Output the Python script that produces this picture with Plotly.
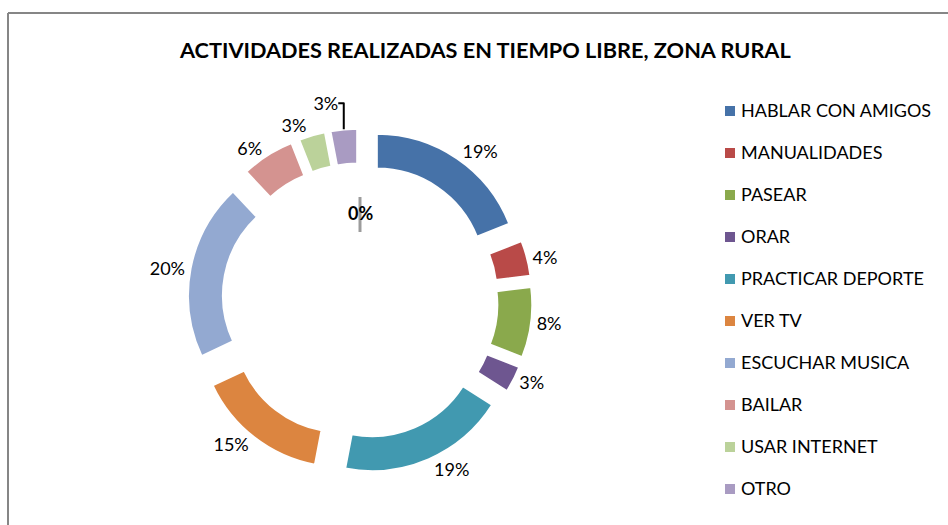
import plotly.graph_objects as go

W, H = 948, 525

categories = ["HABLAR CON AMIGOS", "MANUALIDADES", "PASEAR", "ORAR", "PRACTICAR DEPORTE",
              "VER TV", "ESCUCHAR MUSICA", "BAILAR", "USAR INTERNET", "OTRO"]
values = [19, 4, 8, 3, 19, 15, 20, 6, 3, 3]
colors = ["#4672A8", "#B94A48", "#8AA94C", "#6E5690", "#4199B0",
          "#DC8540", "#93A9D1", "#D49390", "#BBD29A", "#A99BC2"]
title_text = "ACTIVIDADES REALIZADAS EN TIEMPO LIBRE, ZONA RURAL"
center_label = "0%"

FONT = "Lato"

def px_x(x):
    return x / W

def px_y(y):
    return 1 - y / H

pull = 0.21
fig = go.Figure()
fig.add_trace(go.Pie(
    labels=categories,
    values=values,
    marker=dict(colors=colors, line=dict(color="white", width=2)),
    hole=0.755,
    pull=[pull] * len(values),
    sort=False,
    direction="clockwise",
    rotation=0,
    texttemplate="%{percent:.0%}",
    textposition="outside",
    outsidetextfont=dict(family=FONT, size=18, color="#000000"),
    showlegend=False,
    domain=dict(x=[px_x(187.5), px_x(532.5)], y=[px_y(473.5), px_y(128.5)]),
))

annotations = [
    dict(text="<b>" + title_text + "</b>", x=px_x(485), y=px_y(50), xref="paper", yref="paper",
         showarrow=False, xanchor="center", yanchor="middle",
         font=dict(family=FONT, size=21.7, color="#000000")),
    dict(text="<b>" + center_label + "</b>", x=px_x(360), y=px_y(213), xref="paper", yref="paper",
         showarrow=False, xanchor="center", yanchor="middle",
         font=dict(family=FONT, size=18, color="#000000")),
]
shapes = [
    # chart border (left and top edges visible)
    dict(type="line", xref="paper", yref="paper", x0=px_x(8), x1=px_x(8), y0=px_y(13), y1=0,
         line=dict(color="#868686", width=2)),
    dict(type="line", xref="paper", yref="paper", x0=px_x(8), x1=1, y0=px_y(13), y1=px_y(13),
         line=dict(color="#868686", width=2)),
    # small mark behind centre label
    dict(type="line", xref="paper", yref="paper", x0=px_x(360), x1=px_x(360), y0=px_y(197), y1=px_y(232),
         line=dict(color="rgba(90,90,90,0.6)", width=3), layer="below"),
]

y0, dy = 111, 42
for i, (cat, col) in enumerate(zip(categories, colors)):
    yc = y0 + dy * i
    shapes.append(dict(type="rect", xref="paper", yref="paper",
                       x0=px_x(725), x1=px_x(735), y0=px_y(yc + 5), y1=px_y(yc - 5),
                       fillcolor=col, line=dict(width=0)))
    annotations.append(dict(text=cat, x=px_x(739), y=px_y(yc - 1), xref="paper", yref="paper",
                            showarrow=False, xanchor="left", yanchor="middle",
                            font=dict(family=FONT, size=18, color="#000000")))

fig.update_layout(
    width=W, height=H,
    margin=dict(l=0, r=0, t=0, b=0, autoexpand=False),
    paper_bgcolor="white",
    plot_bgcolor="white",
    annotations=annotations,
    shapes=shapes,
    showlegend=False,
)

fig.write_html("out.html", config={"displayModeBar": False},
               post_script="document.body.style.margin='0';document.body.style.overflow='hidden';")
